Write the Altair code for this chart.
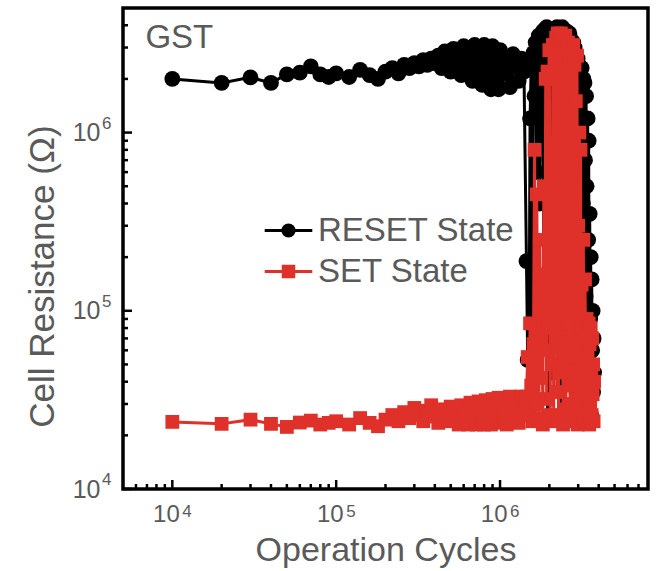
import altair as alt
import pandas as pd

# ---- measured endurance data (cycles, ohms) ----
cycles_initial = [1e4, 2e4, 3e4, 4e4, 5e4, 6e4, 7e4, 8e4, 9e4]
reset_initial = [2.00e6, 1.90e6, 2.04e6, 1.90e6, 2.12e6, 2.17e6, 2.35e6, 2.12e6, 2.05e6]
set_initial = [2.38e4, 2.32e4, 2.45e4, 2.32e4, 2.23e4, 2.36e4, 2.42e4, 2.30e4, 2.35e4]

cycles_stable = [
    1.0e5, 1.2e5, 1.4e5, 1.6e5, 1.8e5, 2.0e5, 2.2e5, 2.4e5, 2.6e5, 2.8e5,
    3.0e5, 3.2e5, 3.4e5, 3.6e5, 3.8e5, 4.0e5, 4.2e5, 4.4e5, 4.6e5, 4.8e5,
    5.0e5, 5.2e5, 5.4e5, 5.6e5, 5.8e5, 6.0e5, 6.2e5, 6.4e5, 6.6e5, 6.8e5,
    7.0e5, 7.2e5, 7.4e5, 7.6e5, 7.8e5, 8.0e5, 8.2e5, 8.4e5, 8.6e5, 8.8e5,
    9.0e5, 9.2e5, 9.4e5, 9.6e5, 9.8e5, 1.0e6,
    1.05e6, 1.10e6, 1.15e6, 1.20e6, 1.25e6, 1.30e6, 1.35e6, 1.40e6,
]
reset_stable = [
    2.15e6, 2.05e6, 2.25e6, 2.10e6, 2.00e6, 2.20e6, 2.30e6, 2.15e6, 2.40e6, 2.30e6,
    2.45e6, 2.35e6, 2.55e6, 2.40e6, 2.60e6, 2.45e6, 2.70e6, 2.30e6, 2.85e6, 2.50e6,
    2.20e6, 2.95e6, 2.65e6, 2.35e6, 2.10e6, 3.05e6, 2.75e6, 2.45e6, 2.15e6, 1.95e6,
    3.10e6, 2.70e6, 2.35e6, 2.05e6, 1.85e6, 3.10e6, 2.70e6, 2.35e6, 2.00e6, 1.75e6,
    3.05e6, 2.65e6, 2.30e6, 2.00e6, 1.75e6, 2.90e6,
    2.50e6, 2.15e6, 1.80e6, 2.75e6, 2.35e6, 1.95e6, 2.60e6, 2.20e6,
]
set_stable = [
    2.40e4, 2.30e4, 2.50e4, 2.35e4, 2.25e4, 2.45e4, 2.60e4, 2.40e4, 2.70e4, 2.50e4,
    2.85e4, 2.60e4, 2.40e4, 2.75e4, 2.95e4, 2.55e4, 2.35e4, 2.80e4, 2.60e4, 2.40e4,
    2.90e4, 2.65e4, 2.45e4, 2.30e4, 2.95e4, 2.70e4, 2.50e4, 2.30e4, 3.05e4, 2.75e4,
    2.50e4, 2.30e4, 3.10e4, 2.80e4, 2.55e4, 2.30e4, 3.15e4, 2.85e4, 2.55e4, 2.30e4,
    3.20e4, 2.90e4, 2.60e4, 2.35e4, 3.25e4, 2.90e4,
    2.60e4, 2.30e4, 3.30e4, 2.95e4, 2.65e4, 2.35e4, 3.30e4, 2.90e4,
]

cycles_failure = [
    1.450e6, 1.475e6, 1.500e6, 1.525e6, 1.550e6, 1.575e6, 1.600e6, 1.625e6, 1.650e6, 1.675e6,
    1.700e6, 1.725e6, 1.750e6, 1.775e6, 1.800e6, 1.825e6, 1.850e6, 1.875e6, 1.900e6, 1.925e6,
    1.950e6, 1.975e6, 2.000e6, 2.025e6, 2.050e6, 2.075e6, 2.100e6, 2.125e6, 2.150e6, 2.175e6,
    2.200e6, 2.225e6, 2.250e6, 2.275e6, 2.300e6, 2.325e6, 2.350e6, 2.375e6, 2.400e6, 2.425e6,
    2.450e6, 2.475e6, 2.500e6, 2.525e6, 2.550e6, 2.575e6, 2.600e6, 2.625e6, 2.650e6, 2.675e6,
    2.700e6, 2.725e6, 2.750e6, 2.775e6, 2.800e6, 2.825e6, 2.850e6, 2.875e6, 2.900e6, 2.925e6,
    2.950e6, 2.975e6, 3.000e6, 3.025e6, 3.050e6, 3.075e6, 3.100e6, 3.125e6, 3.150e6, 3.175e6,
    3.200e6, 3.225e6, 3.250e6, 3.275e6, 3.300e6, 3.325e6, 3.350e6, 3.375e6, 3.400e6, 3.425e6,
    3.450e6, 3.475e6, 3.500e6, 3.525e6, 3.550e6, 3.575e6, 3.600e6, 3.625e6, 3.650e6, 3.675e6,
    3.700e6, 3.725e6, 3.750e6,
]
reset_failure = [
    1.9e5, 5.3e4, 2.8e4, 1.2e6, 2.4e6, 3.0e4, 2.8e6, 1.6e6, 3.2e6, 6.0e5,
    3.0e6, 3.5e6, 4.0e5, 3.3e6, 2.6e6, 3.7e6, 1.1e5, 3.8e6, 3.1e6, 3.9e6,
    2.5e4, 3.6e6, 3.3e6, 8.0e5, 3.6e6, 2.8e6, 4.5e4, 3.4e6, 3.8e6, 3.0e5,
    3.5e6, 3.9e6, 3.2e6, 7.0e4, 3.7e6, 3.0e6, 2.6e4, 3.5e6, 3.9e6, 1.5e6,
    3.6e6, 3.1e6, 3.9e4, 3.4e6, 3.7e6, 2.0e6, 3.3e6, 5.0e5, 3.6e6, 3.0e6,
    2.5e4, 3.3e6, 2.7e6, 9.0e4, 3.2e6, 2.4e6, 3.0e6, 2.0e5, 2.8e6, 2.2e6,
    3.0e4, 2.6e6, 1.9e6, 2.4e6, 6.0e4, 2.2e6, 1.6e6, 2.6e4, 2.3e6, 1.8e6,
    4.0e5, 2.0e6, 2.8e4, 1.9e6, 7.0e5, 1.2e5, 1.6e6, 5.0e5, 3.5e4, 1.2e6,
    2.5e5, 9.0e5, 5.0e4, 3.5e5, 9.0e4, 2.0e5, 2.6e4, 1.5e5, 6.0e4, 1.0e5,
    3.5e4, 7.0e4, 4.5e4,
]
set_failure = [
    3.3e4, 5.5e4, 2.6e4, 8.5e4, 3.8e4, 2.4e4, 6.5e4, 8.0e5, 3.0e4, 4.5e5,
    7.5e4, 2.5e4, 2.5e5, 4.2e4, 1.6e5, 2.3e4, 5.0e5, 6.0e4, 2.0e6, 3.2e4,
    2.2e6, 8.0e4, 2.9e6, 2.6e4, 6.0e5, 5.0e4, 3.1e6, 2.4e4, 2.5e6, 9.0e4,
    3.4e6, 3.5e4, 3.6e6, 2.5e4, 1.8e6, 7.0e4, 3.6e6, 4.5e4, 3.3e6, 2.3e4,
    2.0e5, 6.5e4, 3.5e6, 2.8e4, 3.0e6, 8.5e4, 3.2e6, 3.8e4, 2.6e6, 2.4e4,
    9.0e5, 5.5e4, 2.9e6, 3.0e4, 3.1e6, 7.5e4, 2.4e6, 2.6e4, 1.5e6, 4.5e4,
    2.7e6, 2.3e4, 3.0e5, 6.0e4, 1.0e6, 3.4e4, 8.0e5, 2.5e4, 1.4e5, 8.0e4,
    3.0e4, 2.5e5, 5.0e4, 2.4e4, 1.5e5, 7.0e4, 3.2e4, 9.0e4, 2.5e4, 5.5e4,
    3.8e4, 8.5e4, 2.3e4, 6.5e4, 3.0e4, 8.0e4, 4.2e4, 2.6e4, 7.0e4, 3.4e4,
    5.0e4, 2.4e4, 4.0e4,
]

states = ["RESET State", "SET State"]
state_colors = ["#000000", "#df3129"]

# axis tick positions and decade exponents
x_major = [1e4, 1e5, 1e6]
x_exponent = ["4", "5", "6"]
x_minor = [6e3, 7e3, 8e3, 9e3,
           2e4, 3e4, 4e4, 5e4, 6e4, 7e4, 8e4, 9e4,
           2e5, 3e5, 4e5, 5e5, 6e5, 7e5, 8e5, 9e5,
           2e6, 3e6, 4e6, 5e6, 6e6, 7e6]
y_major = [1e4, 1e5, 1e6]
y_exponent = ["4", "5", "6"]
y_minor = [2e4, 3e4, 4e4, 5e4, 6e4, 7e4, 8e4, 9e4,
           2e5, 3e5, 4e5, 5e5, 6e5, 7e5, 8e5, 9e5,
           2e6, 3e6, 4e6]

sample_name = ["GST"]
sample_x = [6.85e3]
sample_y = [3.0e6]

# ---- tables ----
cycles = cycles_initial + cycles_stable + cycles_failure
reset_vals = reset_initial + reset_stable + reset_failure
set_vals = set_initial + set_stable + set_failure
assert len(cycles) == len(reset_vals) == len(set_vals)

reset_df = pd.DataFrame({"cycles": cycles, "ohm": reset_vals, "order": range(len(cycles))})
set_df = pd.DataFrame({"cycles": cycles, "ohm": set_vals, "order": range(len(cycles))})

W, H = 525, 481
FONT = "Liberation Sans"
GREY = "#5a5a5a"

xs = alt.Scale(type="log", domain=[5e3, 8e6], nice=False)
ys = alt.Scale(type="log", domain=[1e4, 5e6], nice=False)

# every layer shares these encodings so the axes merge cleanly;
# the axes print the "10" of each decade, the exponent is a separate text layer
x_enc = alt.X("cycles:Q", scale=xs, title="Operation Cycles",
              axis=alt.Axis(values=x_major, ticks=False, domain=False, grid=False,
                            labelExpr="'10'", labelAlign="right", labelOffset=7,
                            labelFontSize=24, labelPadding=13,
                            labelColor=GREY, labelFont=FONT,
                            titleFontSize=34, titleColor=GREY, titleFont=FONT,
                            titleFontWeight="normal", titleBaseline="alphabetic", titleY=71))
y_enc = alt.Y("ohm:Q", scale=ys, title="Cell Resistance (Ω)",
              axis=alt.Axis(values=y_major, ticks=False, domain=False, grid=False,
                            labelExpr="'10'", labelFontSize=25, labelPadding=23,
                            labelColor=GREY, labelFont=FONT,
                            titleFontSize=35, titleColor=GREY, titleFont=FONT,
                            titleFontWeight="normal", titleAngle=270,
                            titleBaseline="alphabetic", titleAlign="center",
                            titleX=-70, titleY=268))


def series(df, color, shape, size):
    base = alt.Chart(df)
    line = base.mark_line(color=color, strokeWidth=3).encode(x=x_enc, y=y_enc, order="order:Q")
    pts = base.mark_point(filled=True, opacity=1, color=color, shape=shape, size=size).encode(
        x=x_enc, y=y_enc)
    return line + pts


reset_layer = series(reset_df, state_colors[0], "circle", 250)
set_layer = series(set_df, state_colors[1], "square", 190)

# legend entries: a line with the marker in its middle
circle_sym = "M-3.4,0H3.4M0.8,0A0.8,0.8,0,1,1,-0.8,0A0.8,0.8,0,1,1,0.8,0Z"
square_sym = "M-3.4,0H3.4M-0.75,-0.75H0.75V0.75H-0.75Z"


def legend_cfg():
    return alt.Legend(title=None, orient="none", legendX=149, legendY=206,
                      symbolSize=196, symbolStrokeWidth=3, symbolOpacity=1,
                      labelFontSize=33, labelFont=FONT, labelColor=GREY, labelLimit=400,
                      labelOffset=13, rowPadding=7, padding=0)


legend_layer = alt.Chart(pd.DataFrame({"state": states})).mark_point(filled=True, opacity=0).encode(
    fill=alt.Fill("state:N", scale=alt.Scale(domain=states, range=state_colors), legend=legend_cfg()),
    stroke=alt.Stroke("state:N", scale=alt.Scale(domain=states, range=state_colors), legend=legend_cfg()),
    shape=alt.Shape("state:N", scale=alt.Scale(domain=states, range=[circle_sym, square_sym]),
                    legend=legend_cfg()),
)


# inward-pointing ticks on the bottom and left frame edges
def xticks(vals, length):
    return alt.Chart(pd.DataFrame({"cycles": vals})).mark_rule(color="black", strokeWidth=2.5).encode(
        x=x_enc, y=alt.value(H), y2=alt.value(H - length))


def yticks(vals, length):
    return alt.Chart(pd.DataFrame({"ohm": vals})).mark_rule(color="black", strokeWidth=2.5).encode(
        y=y_enc, x=alt.value(0), x2=alt.value(length))


# superscript exponents next to the "10" labels
x_exp_layer = alt.Chart(pd.DataFrame({"cycles": x_major, "exp": x_exponent})).mark_text(
    align="left", baseline="top", fontSize=17, font=FONT, color=GREY, dx=10, dy=15).encode(
    x=x_enc, y=alt.value(H), text="exp:N")
y_exp_layer = alt.Chart(pd.DataFrame({"ohm": y_major, "exp": y_exponent})).mark_text(
    align="left", baseline="top", fontSize=17, font=FONT, color=GREY, dx=-21, dy=-17).encode(
    y=y_enc, x=alt.value(0), text="exp:N")

label_layer = alt.Chart(pd.DataFrame({"name": sample_name, "cycles": sample_x, "ohm": sample_y})).mark_text(
    align="left", baseline="alphabetic", fontSize=33, font=FONT, color=GREY).encode(
    x=x_enc, y=y_enc, text="name:N")

chart = alt.layer(
    reset_layer, set_layer,
    xticks(x_major, 9), xticks(x_minor, 5), yticks(y_major, 9), yticks(y_minor, 5),
    x_exp_layer, y_exp_layer, label_layer, legend_layer,
).properties(
    width=W, height=H, background="white",
    autosize=alt.AutoSizeParams(type="none"),
    padding={"left": 123, "top": 8, "right": 9, "bottom": 82},
).configure_view(
    stroke="black", strokeWidth=3.5
)

chart.save("out.html", embed_options={"renderer": "svg", "actions": False})
